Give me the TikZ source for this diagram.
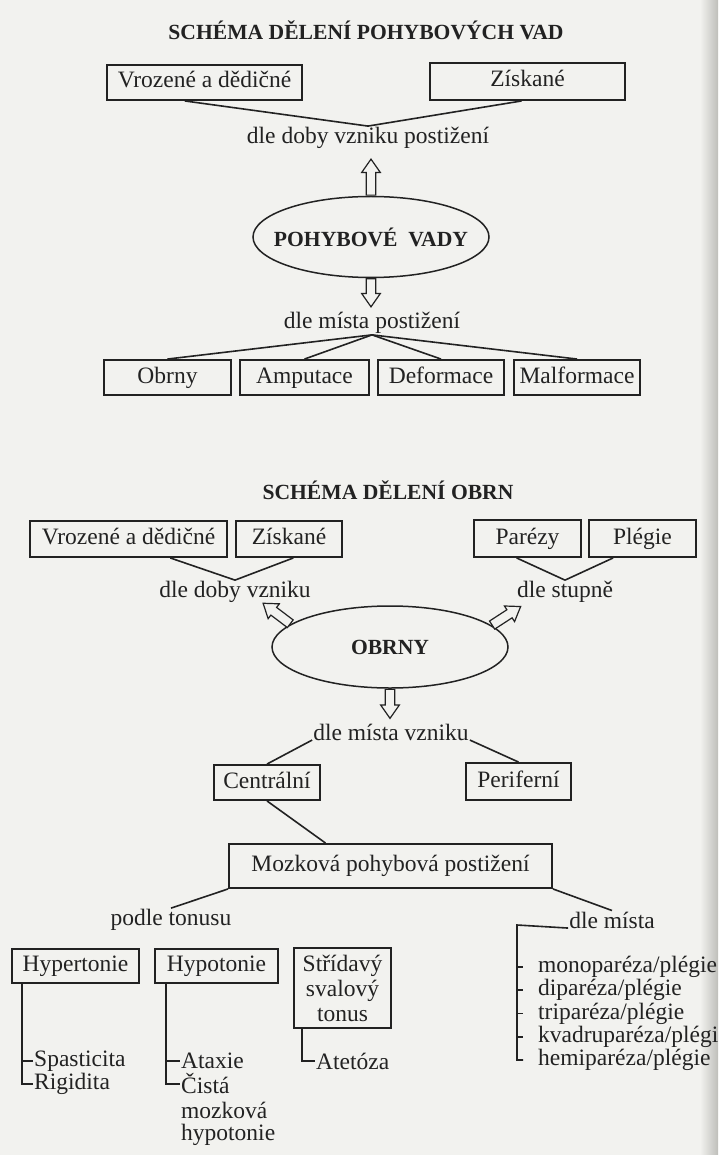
\documentclass[tikz,border=0pt]{standalone}
\usepackage{fontspec}
\setmainfont{Liberation Serif}
\usetikzlibrary{shapes.geometric, shapes.arrows, calc}

\definecolor{paper}{RGB}{242,242,239}
\definecolor{edge}{RGB}{190,190,186}
\definecolor{ink}{RGB}{34,34,34}

\tikzset{
  box/.style={draw=ink, line width=1.9pt, inner sep=0pt, minimum height=35pt, text=ink,
    text height=16pt, text depth=5pt},
  oval/.style={ellipse, draw=ink, line width=1.5pt, minimum width=236pt, minimum height=81pt},
  boldtxt/.style={text=ink, font=\bfseries\fontsize{21.6}{24}\selectfont},
  lbl/.style={text=ink, inner sep=1pt},
  leaf/.style={text=ink, inner xsep=1pt, inner ysep=0pt, anchor=west},
  listitem/.style={leaf, inner xsep=15pt},
  hollow/.style={single arrow, draw=ink, fill=paper, line width=1.2pt, inner sep=4.2pt,
    single arrow head extend=4.5pt, single arrow tip angle=70, anchor=tail},
  link/.style={draw=ink, line width=1.6pt},
}

\begin{document}
\begin{tikzpicture}[x=1pt, y=-1pt, font=\fontsize{23.5}{25}\selectfont]
\fill[paper] (0,0) rectangle (718,1155);
\shade[left color=paper, right color=edge] (700,0) rectangle (718,1155);
\useasboundingbox (0,0) rectangle (718,1155);

% pohybove vady
\node[boldtxt] (title1) at (366,30) {SCHÉMA DĚLENÍ POHYBOVÝCH VAD};
\node[box, minimum width=195pt] (vr1) at (204.5,82.5) {Vrozené a dědičné};
\node[box, minimum width=195pt, minimum height=37pt] (zi1) at (527.5,81.5) {Získané};
\node[lbl] (dob1) at (368,138) {dle doby vzniku postižení};
\node[oval, label={[boldtxt]center:POHYBOVÉ~~VADY}] (vady) at (371,237) {};
\node[hollow, rotate=90, minimum height=36pt] (up1) at (vady.north) {};
\node[hollow, rotate=-90, minimum height=28pt] (dn1) at (vady.south) {};
\node[lbl] (mis1) at (372,323) {dle místa postižení};
\node[box, minimum width=127pt] (obr1) at (167.5,377.5) {Obrny};
\node[box, minimum width=129pt] (amp1) at (304.5,377.5) {Amputace};
\node[box, minimum width=126pt] (def1) at (441,377.5) {Deformace};
\node[box, minimum width=126pt] (mal1) at (577,377.5) {Malformace};

\draw[link] ($(vr1.south west)!0.4!(vr1.south east)$) -- (dob1.north);
\draw[link] ($(zi1.south west)!0.47!(zi1.south east)$) -- (dob1.north);
\foreach \b in {obr1,amp1,def1,mal1}
  \draw[link] (mis1.south) -- (\b.north);

% obrny
\node[boldtxt] (title2) at (388,490) {SCHÉMA DĚLENÍ OBRN};
\node[box, minimum width=197pt, minimum height=36pt] (vr2) at (128.5,539) {Vrozené a dědičné};
\node[box, minimum width=106pt, minimum height=36pt] (zi2) at (289,539) {Získané};
\node[box, minimum width=107pt, minimum height=37pt] (pa2) at (527.5,538.5) {Parézy};
\node[box, minimum width=107pt, minimum height=37pt] (pl2) at (642.5,538.5) {Plégie};
\node[lbl] (dob2) at (235,592) {dle doby vzniku};
\node[lbl] (stu2) at (565,592) {dle stupně};
\node[oval, minimum height=82pt, label={[boldtxt]center:OBRNY}] (obrny) at (390,647) {};
\node[hollow, rotate=143, minimum height=34pt] (up2) at (obrny.167) {};
\node[hollow, rotate=33, minimum height=34pt] (up3) at (obrny.12) {};
\node[hollow, rotate=-90, minimum height=29pt] (dn2) at (obrny.south) {};
\node[lbl] (mis2) at (391,732) {dle místa vzniku};
\node[box, minimum width=106pt] (ce2) at (267,782.5) {Centrální};
\node[box, minimum width=105pt, minimum height=37pt] (pe2) at (518.5,781.5) {Periferní};
\node[box, minimum width=323pt, minimum height=44pt] (mo2) at (390.5,866) {Mozková pohybová postižení};

\draw[link] ($(vr2.south west)!0.71!(vr2.south east)$) -- (dob2.north);
\draw[link] ($(zi2.south west)!0.54!(zi2.south east)$) -- (dob2.north);
\draw[link] ($(pa2.south west)!0.4!(pa2.south east)$) -- (stu2.north);
\draw[link] ($(pl2.south west)!0.23!(pl2.south east)$) -- (stu2.north);
\draw[link] (mis2.base west) -- (ce2.north);
\draw[link] (mis2.base east) -- (pe2.north);
\draw[link] (ce2.south) -- ($(mo2.north west)!0.3!(mo2.north east)$);

% mozkova pohybova postizeni
\node[lbl] (ton3) at (171,920) {podle tonusu};
\node[lbl] (mi3) at (612,920) {dle místa};
\draw[link] (mo2.south west) -- (ton3.north);
\draw[link] (mo2.south east) -- (mi3.north);

\node[box, minimum width=127pt, minimum height=34pt] (hyper) at (75.5,966) {Hypertonie};
\node[box, minimum width=123pt, minimum height=34pt] (hypo) at (216.5,966) {Hypotonie};
\node[box, minimum width=97pt, minimum height=80pt, align=center, text height=, text depth=] (strid) at (342.5,988) {Střídavý\\svalový\\tonus};

\node[leaf] (spas) at (33,1061) {Spasticita};
\node[leaf] (rig) at (33,1084) {Rigidita};
\node[leaf] (atax) at (180,1061) {Ataxie};
\node[leaf] (cist) at (180,1084) {Čistá};
\node[leaf] (moz) at (180,1110) {mozková};
\node[leaf] (hypt) at (180,1135) {hypotonie};
\node[leaf] (atet) at (315,1061) {Atetóza};

\coordinate (t1) at ($(hyper.south west)+(11,0)$);
\coordinate (t2) at ($(hypo.south west)+(12,0)$);
\coordinate (t3) at ($(strid.south west)+(9,0)$);
\draw[link] (t1) |- (rig.west);
\draw[link] (t1 |- spas.west) -- (spas.west);
\draw[link] (t2) |- (cist.west);
\draw[link] (t2 |- atax.west) -- (atax.west);
\draw[link] (t3) |- (atet.west);

\node[listitem] (mono) at (523,967) {monoparéza/plégie};
\node[listitem] (di) at (523,990) {diparéza/plégie};
\node[listitem] (tri) at (523,1013.5) {triparéza/plégie};
\node[listitem] (kvadr) at (523,1037) {kvadruparéza/plégie};
\node[listitem] (hemi) at (523,1060) {hemiparéza/plégie};

\coordinate (t4) at (517,925);
\draw[link] (mi3.base west) -- (t4) |- (hemi.west);
\foreach \n in {mono,di,tri,kvadr}
  \draw[link] (t4 |- \n.west) -- (\n.west);
\end{tikzpicture}
\end{document}
